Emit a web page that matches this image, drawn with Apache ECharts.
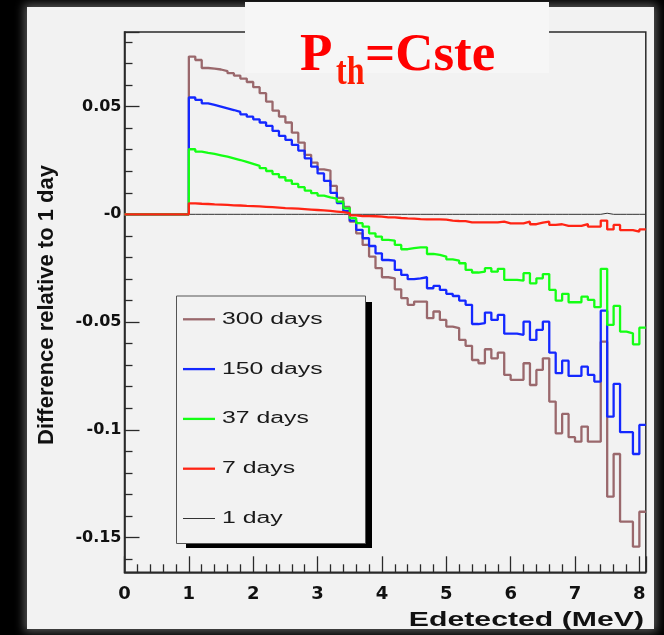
<!DOCTYPE html>
<html>
<head>
<meta charset="utf-8">
<script src="https://cdn.jsdelivr.net/npm/echarts@6/dist/echarts.min.js"></script>
<style>
  html, body { margin: 0; padding: 0; background: #000; width: 664px; height: 635px; overflow: hidden; }
  #panel { position: absolute; left: 27px; top: 7px; width: 627px; height: 622px; background: #f2f2f2;
           box-shadow: 0 0 9px 3px rgba(170,170,170,0.5); }
  #chart { position: absolute; left: 0; top: 0; width: 664px; height: 635px; }
</style>
</head>
<body>
<div id="panel"></div>
<div id="chart"></div>
<script>
// Histogram binning: 81 bins of 0.1 MeV from 0 to 8.1 MeV
const BIN_WIDTH = 0.1;
const N_BINS = 81;
const binEdges = Array.from({ length: N_BINS + 1 }, (_, i) => Math.round(i * BIN_WIDTH * 10) / 10);

// Relative difference to the 1-day spectrum, one value per bin
const diff300 = [0,0,0,0,0,0,0,0,0,0,
  0.0732,0.0716,0.0679,0.0676,0.0672,0.0665,0.0655,0.0644,0.0630,0.0614,
  0.0590,0.0562,0.0523,0.0481,0.0454,0.0426,0.0379,0.0333,0.0276,0.0240,
  0.0209,0.0203,0.0132,0.0076,0.0034,-0.0034,-0.0088,-0.0142,-0.0196,-0.0250,
  -0.0292,-0.0297,-0.0348,-0.0389,-0.0420,-0.0405,-0.0405,-0.0482,-0.0451,-0.0490,
  -0.0521,-0.0528,-0.0583,-0.0610,-0.0676,-0.0691,-0.0626,-0.0668,-0.0642,-0.0745,
  -0.0768,-0.0768,-0.0691,-0.0792,-0.0722,-0.0668,-0.0869,-0.1016,-0.0926,-0.1034,
  -0.1055,-0.0985,-0.1055,-0.1055,-0.0591,-0.1310,-0.1112,-0.1426,-0.1426,-0.1542,
  -0.1380];

const diff150 = [0,0,0,0,0,0,0,0,0,0,
  0.0542,0.0531,0.0515,0.0508,0.0500,0.0492,0.0484,0.0475,0.0464,0.0453,
  0.0441,0.0426,0.0410,0.0387,0.0364,0.0345,0.0322,0.0296,0.0260,0.0221,
  0.0190,0.0155,0.0100,0.0052,0.0015,-0.0029,-0.0072,-0.0111,-0.0147,-0.0181,
  -0.0212,-0.0215,-0.0258,-0.0281,-0.0301,-0.0297,-0.0292,-0.0343,-0.0332,-0.0351,
  -0.0369,-0.0379,-0.0400,-0.0420,-0.0509,-0.0505,-0.0456,-0.0490,-0.0467,-0.0554,
  -0.0554,-0.0559,-0.0498,-0.0583,-0.0536,-0.0498,-0.0642,-0.0737,-0.0679,-0.0750,
  -0.0750,-0.0707,-0.0745,-0.0776,-0.0447,-0.0939,-0.0787,-0.1011,-0.1011,-0.1112,
  -0.0977];

const diff37 = [0,0,0,0,0,0,0,0,0,0,
  0.0302,0.0291,0.0285,0.0280,0.0274,0.0268,0.0260,0.0252,0.0243,0.0234,
  0.0225,0.0214,0.0201,0.0187,0.0172,0.0157,0.0141,0.0126,0.0110,0.0098,
  0.0087,0.0079,0.0073,0.0059,0.0028,-0.0018,-0.0041,-0.0057,-0.0088,-0.0103,
  -0.0119,-0.0122,-0.0142,-0.0162,-0.0157,-0.0153,-0.0153,-0.0184,-0.0188,-0.0196,
  -0.0209,-0.0215,-0.0227,-0.0258,-0.0270,-0.0266,-0.0250,-0.0266,-0.0253,-0.0304,
  -0.0304,-0.0308,-0.0273,-0.0320,-0.0297,-0.0277,-0.0351,-0.0400,-0.0369,-0.0408,
  -0.0408,-0.0382,-0.0397,-0.0431,-0.0253,-0.0513,-0.0425,-0.0544,-0.0552,-0.0603,
  -0.0526];

const diff7 = [0,0,0,0,0,0,0,0,0,0,
  0.0051,0.0049,0.0048,0.0046,0.0045,0.0044,0.0042,0.0041,0.0039,0.0038,
  0.0037,0.0035,0.0033,0.0031,0.0029,0.0028,0.0026,0.0024,0.0022,0.0020,
  0.0018,0.0016,0.0013,0.0010,0.0006,-0.0005,-0.0008,-0.0008,-0.0009,-0.0011,
  -0.0014,-0.0014,-0.0017,-0.0019,-0.0020,-0.0022,-0.0023,-0.0023,-0.0023,-0.0025,
  -0.0029,-0.0031,-0.0032,-0.0037,-0.0037,-0.0037,-0.0037,-0.0037,-0.0034,-0.0042,
  -0.0042,-0.0042,-0.0034,-0.0046,-0.0039,-0.0034,-0.0049,-0.0046,-0.0054,-0.0054,
  -0.0054,-0.0045,-0.0057,-0.0057,-0.0029,-0.0070,-0.0049,-0.0073,-0.0073,-0.0080,
  -0.0070];

const diff1 = [0,0,0,0,0,0,0,0,0,0,
  0,0,0,0,0,0,0,0,0,0,
  0,0,0,0,0,0,0,0,0,0,
  0,0,0,0,0,0,0,0,0,0,
  0,0,0,0,0,0,0,0,0,0,
  0,0,0,0,0,0,0,0,0,0,
  0,0,0,0,0,0,0,0,0,0,
  0,0,0,0,0.0005,0,0,0,0,0,
  0];

// Axis tick labels
const xTickValues = [0, 1, 2, 3, 4, 5, 6, 7, 8];
const xTickLabels = ['0', '1', '2', '3', '4', '5', '6', '7', '8'];
const yTickValues = [0.05, 0, -0.05, -0.1, -0.15];
const yTickLabels = ['0.05', '-0', '-0.05', '-0.1', '-0.15'];

// Series names (legend order) and their colours
const seriesNames = ['300 days', '150 days', '37 days', '7 days', '1 day'];
const seriesValues = [diff300, diff150, diff37, diff7, diff1];
const seriesColors = ['#9a686c', '#1428ff', '#14ff14', '#ff2414', '#333333'];
const seriesWidths = [2.3, 2.3, 2.3, 2.3, 1];

// Build step-histogram points: one per bin low edge plus the closing upper edge
function histPoints(vals) {
  const pts = vals.map((v, i) => [binEdges[i], v]);
  pts.push([binEdges[vals.length], vals[vals.length - 1]]);
  return pts;
}

function lookupLabel(values, labels, v) {
  for (let i = 0; i < values.length; i++) {
    if (Math.abs(values[i] - v) < 1e-9) return labels[i];
  }
  return '';
}

// Draw the flat 1-day reference first, then the others, 7 days on top
const drawOrder = [4, 0, 1, 2, 3];
const series = drawOrder.map(i => ({
  name: seriesNames[i],
  type: 'line',
  step: 'end',
  data: histPoints(seriesValues[i]),
  showSymbol: false,
  symbol: 'none',
  silent: true,
  lineStyle: { color: seriesColors[i], width: seriesWidths[i] },
  itemStyle: { color: seriesColors[i] }
}));

// Legend box drawn by hand, ROOT style with a solid drop shadow
const LEG = { x: 176.5, y: 296, w: 189, h: 247.5, rowY0: 319.3, rowGap: 49.8 };
const legendElems = [
  { type: 'rect', z: 20, shape: { x: 186, y: 302, width: 186, height: 246 }, style: { fill: '#000' } },
  { type: 'rect', z: 21, shape: { x: LEG.x, y: LEG.y, width: LEG.w, height: LEG.h },
    style: { fill: '#f2f2f2', stroke: '#555', lineWidth: 1 } }
];
seriesNames.forEach((name, i) => {
  const yy = LEG.rowY0 + i * LEG.rowGap;
  legendElems.push({ type: 'line', z: 22,
    shape: { x1: 183, y1: yy, x2: 215, y2: yy },
    style: { stroke: seriesColors[i], lineWidth: seriesWidths[i] } });
  legendElems.push({ type: 'text', z: 22, x: 222, y: yy, scaleX: 1.55,
    style: { text: name, fill: '#1a1a1a', font: '16px "Liberation Sans", Arial, sans-serif',
             align: 'left', verticalAlign: 'middle' } });
});

const chart = echarts.init(document.getElementById('chart'), null, { renderer: 'canvas' });

chart.setOption({
  animation: false,
  backgroundColor: 'transparent',
  grid: {
    left: 124.5, top: 32, width: 521.3, height: 540.3,
    show: true, borderColor: '#2a2a2a', borderWidth: 1.5, backgroundColor: 'transparent'
  },
  xAxis: {
    type: 'value', min: 0, max: 8.1, interval: 1,
    axisLine: { show: true, onZero: false, lineStyle: { color: '#2a2a2a', width: 1.6 } },
    axisTick: { show: true, inside: true, length: 16, lineStyle: { color: '#2a2a2a', width: 1.3 } },
    minorTick: { show: true, splitNumber: 5, length: 8, lineStyle: { color: '#2a2a2a', width: 1.3 } },
    splitLine: { show: false },
    axisLabel: {
      margin: 13, color: '#111', fontFamily: 'DejaVu Sans', fontWeight: 'bold', fontSize: 18,
      showMaxLabel: false,
      formatter: v => lookupLabel(xTickValues, xTickLabels, v)
    }
  },
  yAxis: {
    type: 'value', min: -0.1661, max: 0.0846, splitNumber: 5,
    axisLine: { show: true, onZero: false, lineStyle: { color: '#2a2a2a', width: 1.6 } },
    axisTick: { show: true, inside: true, length: 15, lineStyle: { color: '#2a2a2a', width: 1.3 } },
    minorTick: { show: true, splitNumber: 5, length: 8, lineStyle: { color: '#2a2a2a', width: 1.3 } },
    splitLine: { show: false },
    axisLabel: {
      margin: 3, color: '#111', fontFamily: 'DejaVu Sans', fontWeight: 'bold', fontSize: 16,
      showMinLabel: false, showMaxLabel: false,
      formatter: v => lookupLabel(yTickValues, yTickLabels, v)
    }
  },
  series: series,
  graphic: [
    // title panel
    { type: 'rect', z: 10, shape: { x: 245, y: 2, width: 304, height: 71 }, style: { fill: '#f6f6f6' } },
    { type: 'text', z: 11, x: 300, y: 56.5,
      style: { text: 'P', fill: '#ff0000', font: 'bold 53px "Liberation Serif", "Times New Roman", serif',
               align: 'left', verticalAlign: 'middle' } },
    { type: 'text', z: 11, x: 336, y: 74, scaleX: 0.8,
      style: { text: 'th', fill: '#ff1a00', font: 'bold 40px "Liberation Serif", "Times New Roman", serif',
               align: 'left', verticalAlign: 'middle' } },
    { type: 'text', z: 11, x: 365, y: 56.5,
      style: { text: '=Cste', fill: '#ff0000', font: 'bold 53px "Liberation Serif", "Times New Roman", serif',
               align: 'left', verticalAlign: 'middle' } },
    // axis titles
    { type: 'text', z: 11, x: 644, y: 621, scaleX: 1.55,
      style: { text: 'Edetected (MeV)', fill: '#111', font: 'bold 19.5px "Liberation Sans", Arial, sans-serif',
               align: 'right', verticalAlign: 'middle' } },
    { type: 'text', z: 11, x: 47, y: 305, rotation: Math.PI / 2,
      style: { text: 'Difference relative to 1 day', fill: '#111',
               font: 'bold 22px "Liberation Sans", Arial, sans-serif',
               align: 'center', verticalAlign: 'middle' } }
  ].concat(legendElems)
});
</script>
</body>
</html>
